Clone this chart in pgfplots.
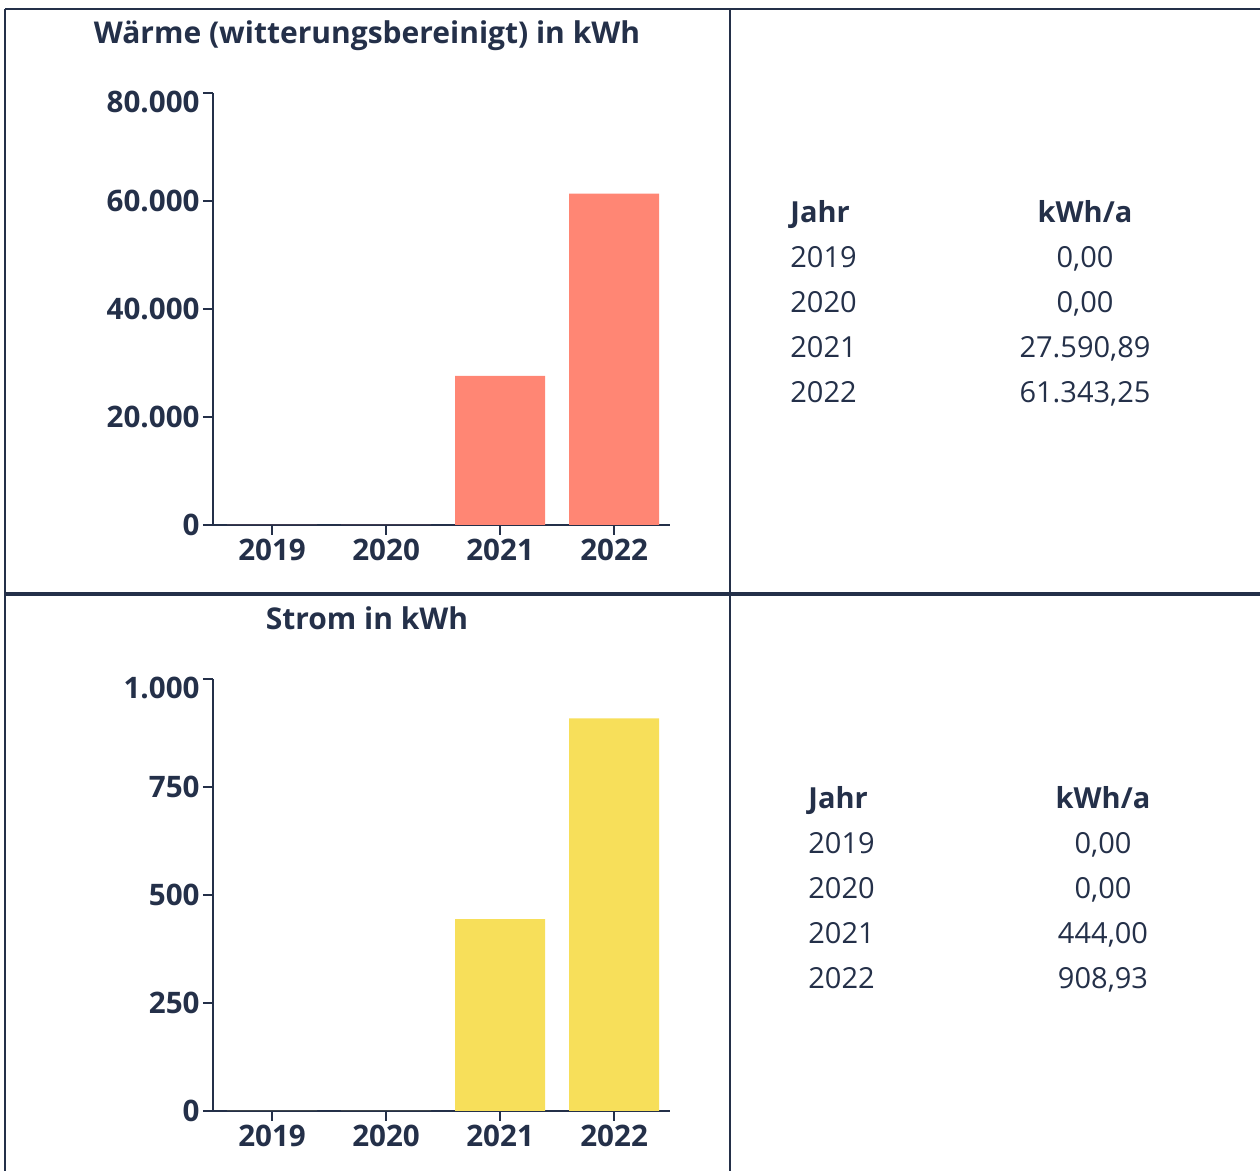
\documentclass[border=0pt]{standalone}
\usepackage{fontspec}
\setmainfont{Open Sans}
\usepackage{pgfplots}
\pgfplotsset{compat=1.18}
\definecolor{ink}{HTML}{243049}
\definecolor{lachs}{HTML}{FF8674}
\definecolor{gelb}{HTML}{F7DF5A}
\pgfplotsset{
  balken/.style={
    scale only axis, width=228.5pt, height=216pt,
    anchor=south west,
    xmin=-0.518, xmax=3.49, ymin=0,
    axis x line*=bottom, axis y line*=left,
    tick align=outside, major tick length=5pt,
    scaled y ticks=false,
    xtick={0,1,2,3}, xticklabels={2019,2020,2021,2022},
    tick style={ink, line width=0.9pt},
    axis line style={ink, line width=0.9pt},
    ticklabel style={font=\fontsize{14.8pt}{17pt}\selectfont\bfseries, text=ink},
    y tick label style={inner sep=1.5pt},
    x tick label style={inner sep=2pt},
    ybar, bar width=45pt, bar shift=0pt,
    clip=false,
  }
}
\begin{document}
\fontsize{14.5pt}{17pt}\selectfont
\begin{tikzpicture}
\useasboundingbox (0,0) rectangle (630pt,585.5pt);
\begin{scope}[x=0.5pt,y=0.5pt]
\draw[ink, line width=1pt] (5,1162) -- (1264,1162);
\draw[ink, line width=1pt] (5,1162) -- (5,-4);
\draw[ink, line width=1pt] (730,1162) -- (730,-4);
\draw[ink, line width=1.7pt] (5,577) -- (1264,577);
\end{scope}

% --- Waerme
\begin{axis}[balken, at={(106.5pt,323pt)}, ymax=80000,
  ytick={0,20000,40000,60000}, yticklabels={0,20.000,40.000,60.000},
  extra y ticks={80000}, extra y tick labels={80.000},
  extra y tick style={y tick label style={yshift=-4.5pt}}]
\addplot[fill=lachs, draw=none] coordinates {(0,0) (1,0) (2,27590.89) (3,61343.25)};
\end{axis}
\node[anchor=base, ink, font=\fontsize{15pt}{18pt}\selectfont\bfseries] at (183.5pt,563.8pt) {Wärme (witterungsbereinigt) in kWh};

% --- Strom
\begin{axis}[balken, at={(106.5pt,30pt)}, ymax=1000,
  ytick={0,250,500,750}, yticklabels={0,250,500,750},
  extra y ticks={1000}, extra y tick labels={1.000},
  extra y tick style={y tick label style={yshift=-4.5pt}}]
\addplot[fill=gelb, draw=none] coordinates {(0,0) (1,0) (2,444.00) (3,908.93)};
\end{axis}
\node[anchor=base, ink, font=\fontsize{15pt}{18pt}\selectfont\bfseries] at (183.5pt,270.8pt) {Strom in kWh};

% --- Tabelle oben
\begin{scope}[every node/.style={ink, inner sep=0pt}]
\node[anchor=base west, font=\bfseries] at (395pt,474.25pt) {Jahr};
\node[anchor=base, font=\bfseries] at (542.5pt,474.25pt) {kWh/a};
\node[anchor=base west] at (395pt,451.75pt) {2019};
\node[anchor=base] at (542.5pt,451.75pt) {0,00};
\node[anchor=base west] at (395pt,429.25pt) {2020};
\node[anchor=base] at (542.5pt,429.25pt) {0,00};
\node[anchor=base west] at (395pt,406.75pt) {2021};
\node[anchor=base] at (542.5pt,406.75pt) {27.590,89};
\node[anchor=base west] at (395pt,384.25pt) {2022};
\node[anchor=base] at (542.5pt,384.25pt) {61.343,25};
% --- Tabelle unten
\node[anchor=base west, font=\bfseries] at (404pt,181.25pt) {Jahr};
\node[anchor=base, font=\bfseries] at (551.5pt,181.25pt) {kWh/a};
\node[anchor=base west] at (404pt,158.75pt) {2019};
\node[anchor=base] at (551.5pt,158.75pt) {0,00};
\node[anchor=base west] at (404pt,136.25pt) {2020};
\node[anchor=base] at (551.5pt,136.25pt) {0,00};
\node[anchor=base west] at (404pt,113.75pt) {2021};
\node[anchor=base] at (551.5pt,113.75pt) {444,00};
\node[anchor=base west] at (404pt,91.25pt) {2022};
\node[anchor=base] at (551.5pt,91.25pt) {908,93};
\end{scope}
\end{tikzpicture}
\end{document}
